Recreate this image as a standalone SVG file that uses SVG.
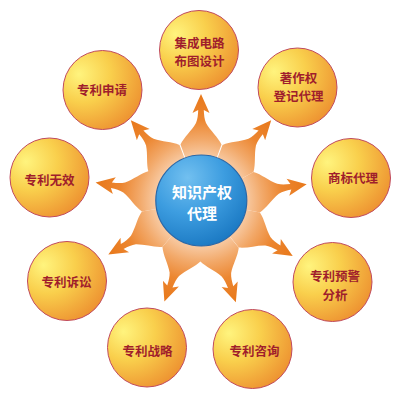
<svg xmlns="http://www.w3.org/2000/svg" xmlns:xlink="http://www.w3.org/1999/xlink" width="400" height="400" viewBox="0 0 400 400">
<style>
.node circle{fill:url(#yg);stroke:#c04a5e;stroke-width:1}
.node text{font-family:"Noto Sans CJK SC","Noto Sans CJK TC",sans-serif;font-weight:bold;font-size:12.5px;fill:#a01e2c;text-anchor:middle;dominant-baseline:central}
#center circle{fill:url(#bg);stroke:#2a68a8;stroke-width:1.2}
#center text{font-family:"Noto Sans CJK SC","Noto Sans CJK TC",sans-serif;font-weight:bold;font-size:15px;fill:#ffffff;text-anchor:middle;dominant-baseline:central}
.arm{fill:url(#sg)}
</style>
<defs>
<radialGradient id="sg" gradientUnits="userSpaceOnUse" cx="0" cy="0" r="107">
<stop offset="0" stop-color="#fbdcc0"/>
<stop offset="0.44" stop-color="#f7c69c"/>
<stop offset="0.58" stop-color="#f2a868"/>
<stop offset="0.76" stop-color="#ec8630"/>
<stop offset="1" stop-color="#e8781a"/>
</radialGradient>
<radialGradient id="yg" cx="0.3" cy="0.3" r="0.8" fx="0.2" fy="0.3">
<stop offset="0" stop-color="#fff47e"/>
<stop offset="0.45" stop-color="#f9cf4c"/>
<stop offset="1" stop-color="#ed9030"/>
</radialGradient>
<radialGradient id="bg" cx="0.35" cy="0.25" r="0.8">
<stop offset="0" stop-color="#72c0f0"/>
<stop offset="0.5" stop-color="#3d9de0"/>
<stop offset="1" stop-color="#1a78c2"/>
</radialGradient>
<path id="arm" class="arm" d="M0,0 L56.4,-20.5 C64,-17 70,-9.5 78,-5 C82,-3.4 86,-3 91,-2.8 L88,-8.5 L107,0 L88,8.5 L91,2.8 C86,3 82,3.4 78,5 C70,9.5 64,17 56.4,20.5 Z"/>
</defs>
<g id="connectors">
<use xlink:href="#arm" href="#arm" transform="translate(201,201) rotate(-90)"/>
<use xlink:href="#arm" href="#arm" transform="translate(201,201) rotate(-49)"/>
<use xlink:href="#arm" href="#arm" transform="translate(201,201) rotate(-9)"/>
<use xlink:href="#arm" href="#arm" transform="translate(201,201) rotate(31)"/>
<use xlink:href="#arm" href="#arm" transform="translate(201,201) rotate(71)"/>
<use xlink:href="#arm" href="#arm" transform="translate(201,201) rotate(110)"/>
<use xlink:href="#arm" href="#arm" transform="translate(201,201) rotate(150)"/>
<use xlink:href="#arm" href="#arm" transform="translate(201,201) rotate(190)"/>
<use xlink:href="#arm" href="#arm" transform="translate(201,201) rotate(229)"/>
</g>
<g id="center">
<circle cx="201.3" cy="200.5" r="45.5"/>
<text x="202" y="191.5">知识产权</text>
<text x="202" y="212">代理</text>
</g>
<g id="n1" class="node">
<circle cx="199" cy="50" r="39.5"/>
<text x="199.5" y="42">集成电路</text>
<text x="199.5" y="60">布图设计</text>
</g>
<g id="n2" class="node">
<circle cx="297.5" cy="87.5" r="39.5"/>
<text x="298.5" y="77">著作权</text>
<text x="298.5" y="95">登记代理</text>
</g>
<g id="n3" class="node">
<circle cx="351" cy="178" r="39.5"/>
<text x="353" y="177.5">商标代理</text>
</g>
<g id="n4" class="node">
<circle cx="332.5" cy="282" r="39.5"/>
<text x="335" y="275.5">专利预警</text>
<text x="335" y="294">分析</text>
</g>
<g id="n5" class="node">
<circle cx="252.5" cy="349" r="39.5"/>
<text x="254.5" y="350.5">专利咨询</text>
</g>
<g id="n6" class="node">
<circle cx="147" cy="347.5" r="39.5"/>
<text x="147.5" y="350">专利战略</text>
</g>
<g id="n7" class="node">
<circle cx="67" cy="281" r="39.5"/>
<text x="66.5" y="281.5">专利诉讼</text>
</g>
<g id="n8" class="node">
<circle cx="49.5" cy="177.5" r="39.5"/>
<text x="49.5" y="179">专利无效</text>
</g>
<g id="n9" class="node">
<circle cx="102.5" cy="90" r="39.5"/>
<text x="102" y="89">专利申请</text>
</g>
</svg>
